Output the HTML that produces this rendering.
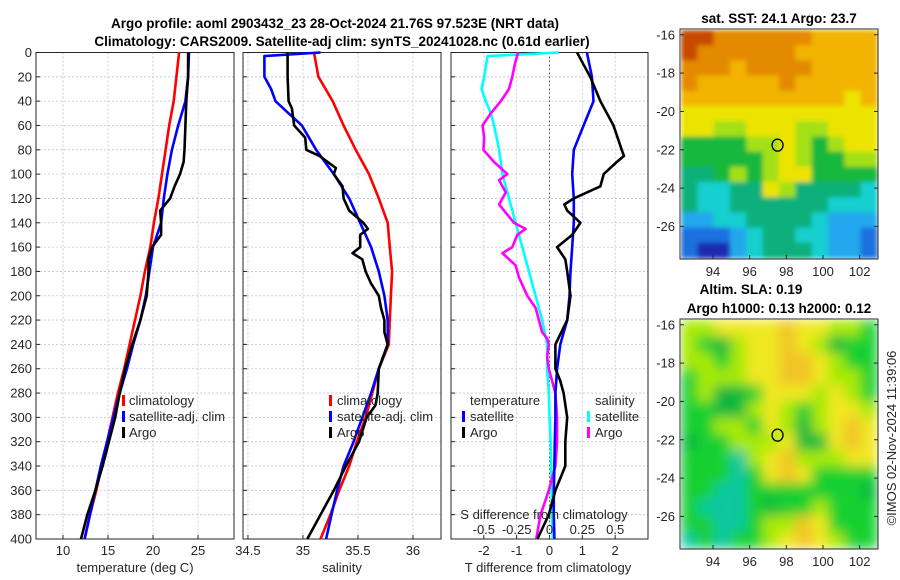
<!DOCTYPE html>
<html><head><meta charset="utf-8">
<style>
body{margin:0;background:#fff;}
svg{display:block;font-family:"Liberation Sans",sans-serif;}
.t{font-size:13px;fill:#262626;}
.b{font-size:13.5px;font-weight:bold;fill:#000;}
</style></head>
<body>
<svg id="fig" width="900" height="580" viewBox="0 0 900 580" xmlns="http://www.w3.org/2000/svg">
<defs>
<filter id="blurS" x="0" y="0" width="1" height="1"><feGaussianBlur stdDeviation="2.5" edgeMode="duplicate"/></filter>
<filter id="blurL" x="0" y="0" width="1" height="1"><feGaussianBlur stdDeviation="6" edgeMode="duplicate"/></filter>
</defs>
<text class="b" x="335" y="28" text-anchor="middle">Argo profile: aoml 2903432_23 28-Oct-2024 21.76S 97.523E (NRT data)</text>
<text class="b" x="342" y="46" text-anchor="middle">Climatology: CARS2009. Satellite-adj clim: synTS_20241028.nc (0.61d earlier)</text>
<text class="b" x="779" y="23" text-anchor="middle">sat. SST: 24.1 Argo: 23.7</text>
<text class="b" x="751" y="294" text-anchor="middle">Altim. SLA: 0.19</text>
<text class="b" x="779" y="313" text-anchor="middle">Argo h1000: 0.13 h2000: 0.12</text>
<text class="t" transform="translate(896,438) rotate(-90)" text-anchor="middle">©IMOS 02-Nov-2024 11:39:06</text>
<g id="g1"></g><g id="g2"></g><g id="g3"></g><g id="gm1"></g><g id="gm2"></g>
</svg>
<script>
// ---- data ----
const tickDepths=[0,20,40,60,80,100,120,140,160,180,200,220,240,260,280,300,320,340,360,380,400];
const tempTicks=[10,15,20,25];
const salTicks=[34.5,35,35.5,36];
const diffTicks=[-2,-1,0,1,2];
const sDiffTickLabels=["-0.5","-0.25","0","0.25","0.5"];
const sDiffTickValues=[-0.5,-0.25,0,0.25,0.5];
const depthStd=[0,20,40,60,80,100,120,140,160,180,200,220,240,260,280,300,320,340,360,380,400];
const tempClim=[22.9,22.6,22.3,21.8,21.4,21.0,20.6,20.1,19.7,19.1,18.6,18.0,17.4,16.8,16.1,15.5,14.9,14.3,13.7,13.0,12.4];
const tempSat=[24.0,23.9,23.6,22.8,22.1,21.6,21.2,20.9,20.0,19.6,19.2,18.6,17.8,17.1,16.3,15.6,14.9,14.2,13.6,13.0,12.4];
const depthArgoT=[0,20,40,60,80,90,100,110,120,130,140,150,160,170,180,200,220,240,260,280,300,320,340,360,380,400];
const tempArgo=[23.9,23.9,23.7,23.6,23.5,23.4,23.0,22.4,21.9,20.8,20.9,20.9,19.9,19.5,19.5,19.3,18.6,17.7,16.9,16.3,15.8,15.1,14.4,13.6,12.7,12.0];
const salClim=[35.10,35.14,35.27,35.37,35.48,35.60,35.69,35.77,35.79,35.81,35.80,35.79,35.78,35.69,35.63,35.57,35.49,35.42,35.33,35.25,35.16];
const depthSatS=[0,3,20,30,40,50,60,80,100,120,140,160,180,200,220,240,260,280,300,320,340,360,380,400];
const salSat=[35.16,34.65,34.65,34.71,34.75,34.87,34.99,35.12,35.28,35.42,35.52,35.62,35.69,35.74,35.77,35.77,35.69,35.62,35.54,35.46,35.37,35.31,35.26,35.21];
const depthArgoS=[0,20,40,46,60,70,80,85,95,100,110,120,130,140,145,150,160,165,170,180,190,200,210,220,230,240,260,280,290,300,320,340,360,380,400];
const salArgo=[34.86,34.86,34.87,34.90,34.92,35.02,35.03,35.15,35.30,35.28,35.36,35.37,35.42,35.55,35.59,35.52,35.52,35.45,35.54,35.57,35.62,35.69,35.71,35.74,35.74,35.77,35.69,35.68,35.66,35.58,35.51,35.39,35.28,35.16,35.04];
const depthDiffA=[0,10,20,40,60,80,85,90,100,110,120,125,130,140,150,160,170,180,200,220,240,260,270,280,300,320,340,360,380,400];
const tDiffArgo=[0.84,1.04,1.24,1.55,1.95,2.20,2.27,2.05,1.65,1.55,0.74,0.45,0.54,0.94,0.69,0.23,0.48,0.54,0.64,0.54,0.18,0.18,0.33,0.43,0.54,0.48,0.48,0.18,-0.02,-0.37];
const tDiffSat=[1.14,1.29,1.34,1.04,0.74,0.69,0.74,0.74,0.69,0.64,0.61,0.54,0.33,0.23,0.18,0.18,0.16,0.15,0.13,0.13,0.15];
const sDiffSat=[0.071,-0.472,-0.497,-0.518,-0.485,-0.447,-0.422,-0.384,-0.359,-0.308,-0.258,-0.207,-0.157,-0.106,-0.056,-0.018,-0.018,-0.005,0,0.008,0.013,0.015,0.02,0.025];
const depthDiffSA=[0,10,20,30,40,50,60,70,80,90,100,105,115,125,140,145,150,160,165,175,185,200,210,220,230,235,240,250,260,280,300,320,340,360,380,400];
const sDiffArgo=[-0.240,-0.265,-0.283,-0.308,-0.371,-0.447,-0.510,-0.497,-0.503,-0.422,-0.321,-0.384,-0.333,-0.384,-0.270,-0.182,-0.245,-0.283,-0.359,-0.258,-0.232,-0.169,-0.106,-0.081,-0.056,-0.018,-0.005,-0.018,-0.005,0.045,0.058,0.058,0.045,-0.005,-0.068,-0.101];
const lonTicks=[94,96,98,100,102];
const latTicks=[-16,-18,-20,-22,-24,-26];
const argoLon=97.52, argoLat=-21.76;
const sstGrid=["AA9999998888","A99999988888","999899998888","988888988888","888888888878","777777777777","776677766777","555566765677","555556765566","445656775555","433447644443","433444444333","223344443222","111234433221","100234443221"];
const slaGrid=["llyyyyoyyllg","lgGlyyoylGgg","llglyyooylgg","glllyyooyllg","glGGgyyylylg","ggGGlylglyyl","ggllgylGlyoy","GgglllyGGyoy","gggtlyolllyy","gggtgyoygggg","ggttgggggggG","gtttgGgglggg","ggttglloyggg","tgtgglyoylgg"];
// ---- helpers ----
const NS="http://www.w3.org/2000/svg";
function mk(tag,at,parent){const e=document.createElementNS(NS,tag);for(const k in at)e.setAttribute(k,at[k]);parent.appendChild(e);return e;}
const Y0=52.5,Y1=539;
const yD=d=>Y0+(Y1-Y0)*d/400;
function panel(g,x0,x1,xmin,xmax,ticks,labels,name,showY){
  const xs=v=>x0+(x1-x0)*(v-xmin)/(xmax-xmin);
  for(const d of tickDepths){const l=mk('line',{x1:x0,x2:x1,y1:yD(d),y2:yD(d),stroke:'#b8c4e0','stroke-width':0.8,'stroke-dasharray':'2,2'},g);
    
    mk('line',{x1:x0,x2:x0+4,y1:yD(d),y2:yD(d),stroke:'#262626'},g);
    if(showY){const t=mk('text',{x:x0-4,y:yD(d)+4.5,'text-anchor':'end',class:'t'},g);t.textContent=d;
      }}
  ticks.forEach((v,i)=>{const l=mk('line',{x1:xs(v),x2:xs(v),y1:Y0,y2:Y1,stroke:'#b8c4e0','stroke-width':0.8,'stroke-dasharray':'2,2'},g);
    
    mk('line',{x1:xs(v),x2:xs(v),y1:Y1,y2:Y1-4,stroke:'#262626'},g);
    const t=mk('text',{x:xs(v),y:555,'text-anchor':'middle',class:'t'},g);t.textContent=labels[i];
    });
  const r=mk('rect',{x:x0,y:Y0,width:x1-x0,height:Y1-Y0,fill:'none',stroke:'#262626','stroke-width':1},g);
  
  return xs;
}
function line(g,xs,vals,deps,col,name){
  const p=vals.map((v,i)=>xs(v).toFixed(1)+','+yD(deps[i]).toFixed(1)).join(' ');
  const e=mk('polyline',{points:p,fill:'none',stroke:col,'stroke-width':2.6,'stroke-linejoin':'round'},g);
  
}
function txt(g,x,y,s,name,anchor){const t=mk('text',{x:x,y:y,class:'t','text-anchor':anchor||'start'},g);t.textContent=s;
  return t;}
function legMark(g,x,y,col){const r=mk('rect',{x:x,y:y-10,width:3,height:11,fill:col},g);
  }
// panel 1
const g1=document.getElementById('g1');
const xT=panel(g1,36,234,7,29,tempTicks,tempTicks.map(String),'temperature-panel',true);
line(g1,xT,tempClim,depthStd,'#ff0000','temp-climatology-line');
line(g1,xT,tempSat,depthStd,'#0000ff','temp-satellite-line');
line(g1,xT,tempArgo,depthArgoT,'#000000','temp-argo-line');
txt(g1,135,572,'temperature (deg C)','temperature-axis-title','middle');
legMark(g1,122,405,'#ff0000');txt(g1,129,405,'climatology','legend-climatology');
legMark(g1,122,421,'#0000ff');txt(g1,129,421,'satellite-adj. clim','legend-satellite');
legMark(g1,122,437,'#000');txt(g1,129,437,'Argo','legend-argo');
// panel 2
const g2=document.getElementById('g2');
const xS=panel(g2,243,441,34.455,36.255,salTicks,salTicks.map(String),'salinity-panel',false);
line(g2,xS,salClim,depthStd,'#ff0000','sal-climatology-line');
line(g2,xS,salSat,depthSatS,'#0000ff','sal-satellite-line');
line(g2,xS,salArgo,depthArgoS,'#000000','sal-argo-line');
txt(g2,342,572,'salinity','salinity-axis-title','middle');
legMark(g2,329,405,'#ff0000');txt(g2,337,405,'climatology','legend-climatology');
legMark(g2,329,421,'#0000ff');txt(g2,337,421,'satellite-adj. clim','legend-satellite');
legMark(g2,329,437,'#000');txt(g2,337,437,'Argo','legend-argo');
// panel 3
const g3=document.getElementById('g3');
const xDf=panel(g3,451,648,-3,3,diffTicks,diffTicks.map(String),'difference-panel',false);
const xSd=v=>xDf(v*4);
mk('line',{x1:xDf(0),x2:xDf(0),y1:Y0,y2:Y1,stroke:'#555533','stroke-width':1,'stroke-dasharray':'1.5,2.5'},g3);
line(g3,xSd,sDiffSat,depthSatS,'#00ffff','sdiff-satellite-line');
line(g3,xSd,sDiffArgo,depthDiffSA,'#ff00ff','sdiff-argo-line');
line(g3,xDf,tDiffSat,depthStd,'#0000ff','tdiff-satellite-line');
line(g3,xDf,tDiffArgo,depthDiffA,'#000000','tdiff-argo-line');
txt(g3,548,572,'T difference from climatology','tdiff-axis-title','middle');
txt(g3,544,519,'S difference from climatology','sdiff-axis-title','middle');
sDiffTickValues.forEach((v,i)=>txt(g3,xSd(v),534,sDiffTickLabels[i],'sdiff-tick-label','middle'));
txt(g3,470,405,'temperature','legend-temperature-heading');
legMark(g3,462,421,'#0000ff');txt(g3,470,421,'satellite','legend-t-satellite');
legMark(g3,462,437,'#000');txt(g3,470,437,'Argo','legend-t-argo');
txt(g3,595,405,'salinity','legend-salinity-heading');
legMark(g3,587,421,'#00ffff');txt(g3,595,421,'satellite','legend-s-satellite');
legMark(g3,587,437,'#ff00ff');txt(g3,595,437,'Argo','legend-s-argo');
// maps
const sstCols={'0':'#1a2cb0','1':'#1f6fe0','2':'#20a8ec','3':'#12cfd0','4':'#10b07a','5':'#14b83c','6':'#a4e012','7':'#ece400','8':'#f2b400','9':'#e48a00','A':'#c84a00'};
const slaCols={'t':'#10c8a0','g':'#18d030','G':'#10b840','l':'#a8ea00','y':'#f0e820','o':'#f2c428'};
function mapPanel(gid,y0,y1,grid,cols,name,filt){
  const g=document.getElementById(gid);const x0=680,x1=878;
  const lx=v=>x0+(v-92.2)/(103.0-92.2)*(x1-x0);
  const ly=v=>y0+(-15.7-v)/(27.7-15.7)*(y1-y0);
  const rows=grid.length,nc=grid[0].length,cw=(x1-x0-2)/nc,ch=(y1-y0-2)/rows;
  const img=mk('g',{filter:'url(#'+filt+')'},g);
  
  grid.forEach((row,r)=>{for(let c=0;c<nc;c++){const e=mk('rect',{x:x0+1+c*cw,y:y0+1+r*ch,width:cw+0.6,height:ch+0.6,fill:cols[row[c]]||'#10c030'},img);
    }});
  const b=mk('rect',{x:x0,y:y0,width:x1-x0,height:y1-y0,fill:'none',stroke:'#262626'},g);
  
  lonTicks.forEach(v=>{mk('line',{x1:lx(v),x2:lx(v),y1:y1,y2:y1-4,stroke:'#262626'},g);txt(g,lx(v),y1+17,String(v),'lon-tick-label','middle');});
  latTicks.forEach(v=>{mk('line',{x1:x0,x2:x0+4,y1:ly(v),y2:ly(v),stroke:'#262626'},g);mk('line',{x1:x1,x2:x1-4,y1:ly(v),y2:ly(v),stroke:'#262626'},g);txt(g,x0-5,ly(v)+4.5,String(v),'lat-tick-label','end');});
  const c=mk('ellipse',{cx:lx(argoLon),cy:ly(argoLat),rx:5.5,ry:6,fill:'none',stroke:'#000','stroke-width':1.3},g);
  
}
mapPanel('gm1',29,259,sstGrid,sstCols,'sst-map','blurS');
mapPanel('gm2',319,549,slaGrid,slaCols,'sla-map','blurL');
</script>
</body></html>
